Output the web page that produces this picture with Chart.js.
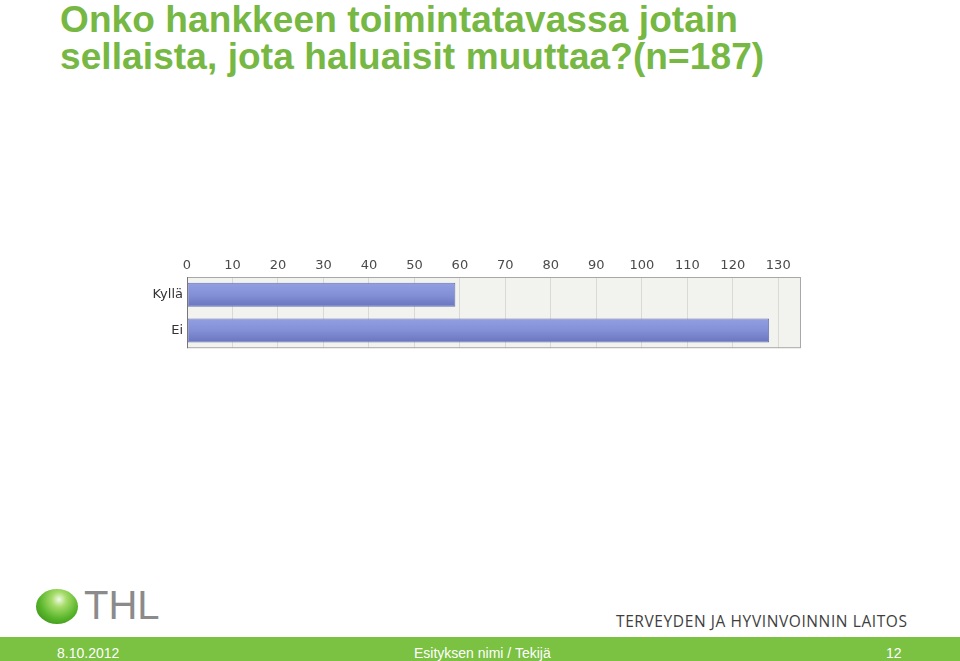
<!DOCTYPE html>
<html>
<head>
<meta charset="utf-8">
<script src="https://cdn.jsdelivr.net/npm/chart.js@4/dist/chart.umd.min.js"></script>
<style>
  html, body { margin: 0; padding: 0; background: #fff; }
  body { width: 960px; height: 661px; position: relative; overflow: hidden; font-family: "Liberation Sans", Arial, sans-serif; }
  #title { position: absolute; left: 60px; top: 1px; margin: 0; font-size: 37px; line-height: 37px; font-weight: bold; color: #76b843; letter-spacing: 0.1px; }
  #wrap { position: absolute; left: 140px; top: 250px; width: 670px; height: 110px; }
  #footer { position: absolute; left: 0; top: 637px; width: 960px; height: 24px; background: #7bc142; color: #fff; font-size: 14px; }
  #footer span { position: absolute; top: 8px; }
  #ball { position: absolute; left: 36px; top: 589px; width: 42px; height: 35px; border-radius: 50%;
    background: radial-gradient(circle at 55% 30%, #f0fae6 0%, #a6dc6a 22%, #58b52a 58%, #2f7d12 100%); }
  #thl { position: absolute; left: 84px; top: 583px; font-size: 40px; color: #8b8b8b; font-family: "Liberation Sans", sans-serif; letter-spacing: 0px; }
  #laitos { position: absolute; left: 616px; top: 610px; font-size: 15.5px; color: #3e3e3e; font-family: "Open Sans", sans-serif; letter-spacing: 0.6px; }
</style>
</head>
<body>
<h1 id="title">Onko hankkeen toimintatavassa jotain<br>sellaista, jota haluaisit muuttaa?(n=187)</h1>
<div id="wrap"><canvas id="c" width="670" height="110"></canvas></div>
<div id="ball"></div>
<div id="thl">THL</div>
<div id="laitos">TERVEYDEN JA HYVINVOINNIN LAITOS</div>
<div id="footer">
  <span style="left:57px">8.10.2012</span>
  <span style="left:414px">Esityksen nimi / Tekijä</span>
  <span style="left:886px">12</span>
</div>
<script>
const categories = ["Kyllä", "Ei"];
const counts = [59, 128];
const tickValues = [0, 10, 20, 30, 40, 50, 60, 70, 80, 90, 100, 110, 120, 130];
const axisMax = 135;

const bgPlugin = {
  id: 'bg',
  beforeDraw(chart) {
    const {ctx, chartArea: a} = chart;
    ctx.save();
    ctx.fillStyle = '#f2f3ef';
    ctx.fillRect(a.left, a.top, a.right - a.left, a.bottom - a.top);
    ctx.restore();
  },
  beforeDatasetsDraw(chart) {
    const meta = chart.getDatasetMeta(0);
    meta.data.forEach(el => {
      const h = el.height;
      const g = chart.ctx.createLinearGradient(0, el.y - h / 2, 0, el.y + h / 2);
      g.addColorStop(0, '#939fe2');
      g.addColorStop(0.5, '#8490d6');
      g.addColorStop(1, '#6874bd');
      el.options = Object.assign({}, el.options, { backgroundColor: g });
    });
  },
  afterDraw(chart) {
    const {ctx, chartArea: a} = chart;
    ctx.save();
    ctx.strokeStyle = '#a8a8a8';
    ctx.lineWidth = 1;
    ctx.strokeRect(a.left + 0.5, a.top + 0.5, a.right - a.left - 1, a.bottom - a.top - 1);
    ctx.strokeStyle = '#777';
    ctx.beginPath(); ctx.moveTo(a.left + 0.5, a.top); ctx.lineTo(a.left + 0.5, a.bottom); ctx.stroke();
    ctx.restore();
  }
};

const ctx = document.getElementById('c').getContext('2d');
new Chart(ctx, {
  type: 'bar',
  data: {
    labels: categories,
    datasets: [{
      data: counts,
      backgroundColor: () => '#7d89d0',
      borderColor: '#6670b2',
      borderWidth: 1,
      borderSkipped: false,
      barPercentage: 0.75,
      categoryPercentage: 0.9
    }]
  },
  options: {
    indexAxis: 'y',
    responsive: false,
    animation: false,
    devicePixelRatio: 1,
    layout: { padding: { top: 0, right: 9, bottom: 9, left: 0 } },
    plugins: { legend: { display: false }, tooltip: { enabled: false } },
    scales: {
      x: {
        position: 'top',
        min: 0, max: axisMax,
        afterFit(s) { s.height = 27; },
        afterBuildTicks(s) { s.ticks = tickValues.map(v => ({ value: v })); },
        ticks: { color: '#4a4a4a', font: { size: 13, family: 'DejaVu Sans' }, padding: 4 },
        grid: { color: '#d9dad6', drawTicks: false },
        border: { display: false }
      },
      y: {
        afterFit(s) { s.width = 47; },
        ticks: { color: '#333', font: { size: 13, family: 'DejaVu Sans' }, padding: 4 },
        grid: { display: false, drawTicks: false },
        border: { display: false }
      }
    }
  },
  plugins: [bgPlugin]
});
</script>
</body>
</html>
